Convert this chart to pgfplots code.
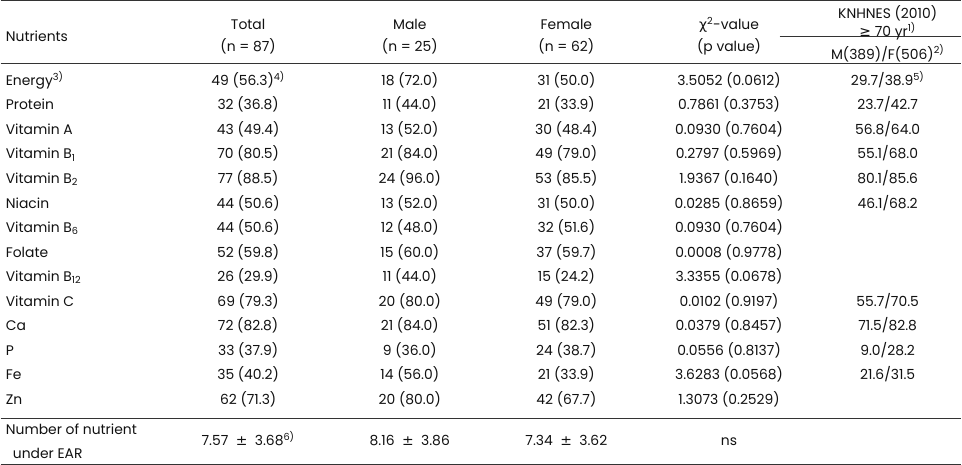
\documentclass[border=0pt]{standalone}
\usepackage{pgfplots}
\pgfplotsset{compat=1.18}
\usepackage{fontspec}
\setmainfont{Poppins}
\newfontfamily\djv{DejaVu Sans}
\definecolor{txt}{HTML}{111111}
\definecolor{rule}{HTML}{333333}
\begin{document}
\begin{tikzpicture}
\begin{axis}[
  width=962bp, height=467bp, scale only axis,
  xmin=0, xmax=962, ymin=0, ymax=467, y dir=reverse,
  hide axis, clip=false,
  point meta=explicit symbolic,
  nodes near coords,
  every node near coord/.append style={anchor=base, yshift=-4.8bp, font=\fontsize{13.8}{15}\selectfont, text=txt, inner sep=0pt},
]
% rules
\draw[rule, line width=1.2bp] (axis cs:2,4) -- (axis cs:953,4);
\draw[rule, line width=1.2bp] (axis cs:2,66) -- (axis cs:953,66);
\draw[rule, line width=1bp] (axis cs:773,40) -- (axis cs:953,40);
\draw[rule, line width=1.2bp] (axis cs:2,418) -- (axis cs:953,418);
\draw[rule, line width=1.2bp] (axis cs:2,463) -- (axis cs:953,463);

% header
\addplot[draw=none, mark=none, every node near coord/.append style={anchor=base west}] coordinates {
 (7,40) [Nutrients]
};
\addplot[draw=none, mark=none] coordinates {
 (247,28) [Total] (247,50) [(n = 87)]
 (407,28) [Male] (407,50) [(n = 25)]
 (562,28) [Female] (562,50) [(n = 62)]
 (723,28) [{\djv χ}\textsuperscript{2}-value] (723,50) [(p value)]
 (880,17) [KNHNES (2010)] (880,35) [{\djv ≥} 70 yr\textsuperscript{1)}]
 (880,57) [M(389)/F(506)\textsuperscript{2)}]
};

% Nutrients column
\addplot[draw=none, mark=none, every node near coord/.append style={anchor=base west}] coordinates {
 (7,83) [Energy\textsuperscript{3)}]
 (7,107.3) [Protein]
 (7,131.6) [Vitamin A]
 (7,155.9) [Vitamin B\textsubscript{1}]
 (7,180.2) [Vitamin B\textsubscript{2}]
 (7,204.5) [Niacin]
 (7,228.8) [Vitamin B\textsubscript{6}]
 (7,253.1) [Folate]
 (7,277.4) [Vitamin B\textsubscript{12}]
 (7,301.7) [Vitamin C]
 (7,326) [Ca]
 (7,350.3) [P]
 (7,374.6) [Fe]
 (7,398.9) [Zn]
 (7,429) [Number of nutrient]
 (14,452) [under EAR]
};

% Total
\addplot[draw=none, mark=none] coordinates {
 (247,83) [49 (56.3)\textsuperscript{4)}]
 (247,107.3) [32 (36.8)]
 (247,131.6) [43 (49.4)]
 (247,155.9) [70 (80.5)]
 (247,180.2) [77 (88.5)]
 (247,204.5) [44 (50.6)]
 (247,228.8) [44 (50.6)]
 (247,253.1) [52 (59.8)]
 (247,277.4) [26 (29.9)]
 (247,301.7) [69 (79.3)]
 (247,326) [72 (82.8)]
 (247,350.3) [33 (37.9)]
 (247,374.6) [35 (40.2)]
 (247,398.9) [62 (71.3)]
 (247,440) [7.57\ \ {\djv ±}\ \ 3.68\textsuperscript{6)}]
};

% Male
\addplot[draw=none, mark=none] coordinates {
 (407,83) [18 (72.0)]
 (407,107.3) [11 (44.0)]
 (407,131.6) [13 (52.0)]
 (407,155.9) [21 (84.0)]
 (407,180.2) [24 (96.0)]
 (407,204.5) [13 (52.0)]
 (407,228.8) [12 (48.0)]
 (407,253.1) [15 (60.0)]
 (407,277.4) [11 (44.0)]
 (407,301.7) [20 (80.0)]
 (407,326) [21 (84.0)]
 (407,350.3) [9 (36.0)]
 (407,374.6) [14 (56.0)]
 (407,398.9) [20 (80.0)]
 (407,440) [8.16\ \ {\djv ±}\ \ 3.86]
};

% Female
\addplot[draw=none, mark=none] coordinates {
 (562,83) [31 (50.0)]
 (562,107.3) [21 (33.9)]
 (562,131.6) [30 (48.4)]
 (562,155.9) [49 (79.0)]
 (562,180.2) [53 (85.5)]
 (562,204.5) [31 (50.0)]
 (562,228.8) [32 (51.6)]
 (562,253.1) [37 (59.7)]
 (562,277.4) [15 (24.2)]
 (562,301.7) [49 (79.0)]
 (562,326) [51 (82.3)]
 (562,350.3) [24 (38.7)]
 (562,374.6) [21 (33.9)]
 (562,398.9) [42 (67.7)]
 (562,440) [7.34\ \ {\djv ±}\ \ 3.62]
};

% chi-square
\addplot[draw=none, mark=none] coordinates {
 (723,83) [3.5052 (0.0612)]
 (723,107.3) [0.7861 (0.3753)]
 (723,131.6) [0.0930 (0.7604)]
 (723,155.9) [0.2797 (0.5969)]
 (723,180.2) [1.9367 (0.1640)]
 (723,204.5) [0.0285 (0.8659)]
 (723,228.8) [0.0930 (0.7604)]
 (723,253.1) [0.0008 (0.9778)]
 (723,277.4) [3.3355 (0.0678)]
 (723,301.7) [0.0102 (0.9197)]
 (723,326) [0.0379 (0.8457)]
 (723,350.3) [0.0556 (0.8137)]
 (723,374.6) [3.6283 (0.0568)]
 (723,398.9) [1.3073 (0.2529)]
 (723,440) [ns]
};

% KNHNES
\addplot[draw=none, mark=none] coordinates {
 (880,83) [29.7/38.9\textsuperscript{5)}]
 (880,107.3) [23.7/42.7]
 (880,131.6) [56.8/64.0]
 (880,155.9) [55.1/68.0]
 (880,180.2) [80.1/85.6]
 (880,204.5) [46.1/68.2]
 (880,301.7) [55.7/70.5]
 (880,326) [71.5/82.8]
 (880,350.3) [9.0/28.2]
 (880,374.6) [21.6/31.5]
};
\end{axis}
\end{tikzpicture}
\end{document}
